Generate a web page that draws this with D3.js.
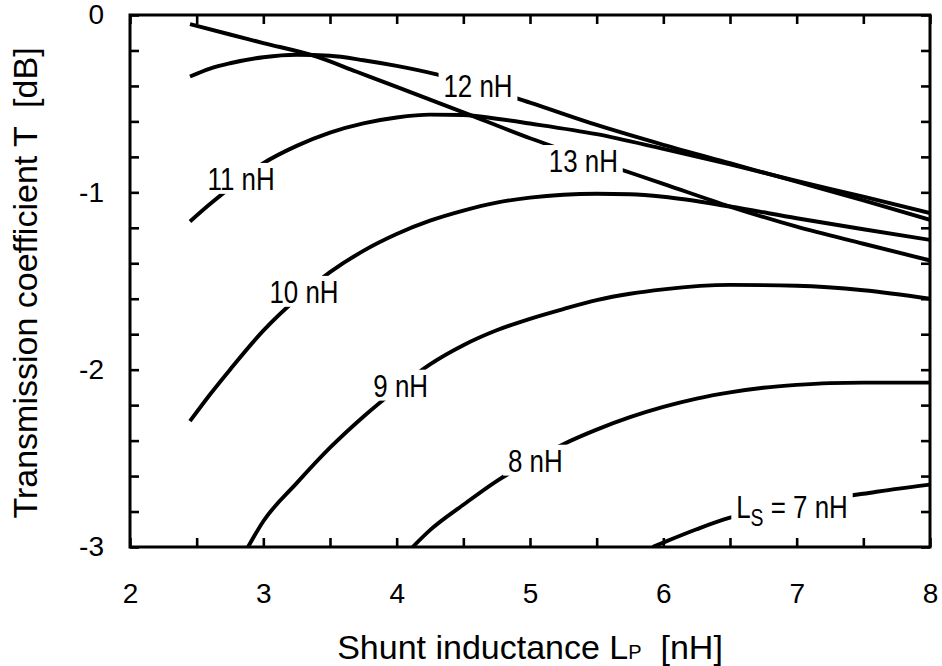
<!DOCTYPE html>
<html>
<head>
<meta charset="utf-8">
<style>
  body { margin: 0; background: #fff; }
  svg text { font-family: "Liberation Sans", Arial, sans-serif; fill: #000; }
</style>
</head>
<body>
<svg id="chart"></svg>
<script src="https://cdn.jsdelivr.net/npm/d3@7"></script>
<script>

/*========== Data ==========*/
// each point is [shunt inductance L_P (nH), transmission coefficient T (dB)]
const ls7 = [[5.92,-3.0],[6.0,-2.975],[6.25,-2.9],[6.5,-2.835],[6.75,-2.792],[7.0,-2.758],[7.25,-2.727],[7.5,-2.7],[7.75,-2.672],[8.0,-2.648]];
const ls8 = [[4.12,-3.0],[4.25,-2.905],[4.5,-2.762],[4.75,-2.628],[5.0,-2.518],[5.25,-2.42],[5.5,-2.338],[5.75,-2.268],[6.0,-2.21],[6.25,-2.163],[6.5,-2.128],[6.75,-2.102],[7.0,-2.086],[7.25,-2.076],[7.5,-2.073],[8.0,-2.073]];
const ls9 = [[2.885,-3.0],[3.0,-2.855],[3.25,-2.64],[3.5,-2.44],[3.75,-2.265],[4.0,-2.11],[4.25,-1.97],[4.5,-1.862],[4.75,-1.778],[5.0,-1.713],[5.25,-1.658],[5.5,-1.608],[5.75,-1.572],[6.0,-1.547],[6.5,-1.522],[7.0,-1.527],[7.5,-1.552],[8.0,-1.6]];
const ls10 = [[2.45,-2.29],[2.6,-2.14],[2.75,-2.0],[3.0,-1.78],[3.25,-1.6],[3.5,-1.45],[3.75,-1.33],[4.0,-1.235],[4.25,-1.16],[4.5,-1.103],[4.75,-1.058],[5.0,-1.03],[5.5,-1.008],[5.75,-1.011],[6.0,-1.025],[6.5,-1.08],[7.0,-1.146],[7.5,-1.208],[8.0,-1.268]];
const ls11 = [[2.45,-1.164],[2.6,-1.066],[2.8,-0.945],[3.0,-0.836],[3.25,-0.738],[3.5,-0.663],[3.75,-0.611],[4.0,-0.578],[4.25,-0.562],[4.5,-0.564],[4.75,-0.585],[5.0,-0.612],[5.5,-0.672],[6.0,-0.755],[6.5,-0.842],[7.0,-0.936],[7.5,-1.024],[8.0,-1.117]];
const ls12 = [[2.45,-0.347],[2.6,-0.302],[2.75,-0.272],[3.0,-0.238],[3.25,-0.224],[3.5,-0.23],[3.75,-0.255],[4.0,-0.287],[4.3,-0.335],[4.5,-0.375],[5.0,-0.494],[5.5,-0.62],[6.0,-0.732],[6.5,-0.836],[7.0,-0.94],[7.5,-1.045],[8.0,-1.155]];
const ls13 = [[2.45,-0.052],[2.75,-0.11],[3.0,-0.158],[3.4,-0.235],[3.7,-0.32],[4.0,-0.405],[4.5,-0.549],[5.0,-0.695],[5.5,-0.825],[6.0,-0.952],[6.5,-1.08],[7.0,-1.194],[7.5,-1.29],[8.0,-1.384]];

const series = [ls7, ls8, ls9, ls10, ls11, ls12, ls13];

// curve labels: main text, optional subscript, text after it, anchor [L_P, T] (centre, baseline)
const labelText = ["L", "8 nH", "9 nH", "10 nH", "11 nH", "12 nH", "13 nH"];
const labelSub  = ["S", "", "", "", "", "", ""];
const labelTail = [" = 7 nH", "", "", "", "", "", ""];
const labelAt   = [[6.965,-2.834],[5.04,-2.575],[4.03,-2.152],[3.305,-1.623],[2.833,-0.986],[4.61,-0.462],[5.40,-0.885]];

const xTicks = d3.range(2, 8.01, 0.5);
const yTicks = d3.range(0, 16).map(i => -3 + i / 5);

/*========== Zones ==========*/
const W = 942, H = 666;
const margin = {top: 15, right: 12, bottom: 119, left: 130};
const width = W - margin.left - margin.right;
const height = H - margin.top - margin.bottom;

const svg = d3.select("#chart").attr("width", W).attr("height", H);
const g = svg.append("g").attr("transform", `translate(${margin.left},${margin.top})`);

const x = d3.scaleLinear().domain([2, 8]).range([0, width]);
const y = d3.scaleLinear().domain([-3, 0]).range([height, 0]);

svg.append("defs").append("clipPath").attr("id", "plot")
  .append("rect").attr("width", width).attr("height", height);

/*========== Axes ==========*/
const isInt = d => Math.abs(d - Math.round(d)) < 1e-9;
const fmt = d => isInt(d) ? String(Math.round(d)) : "";

function styleAxis(sel) {
  sel.select(".domain").remove();
  sel.selectAll(".tick line").attr("stroke", "#000").attr("stroke-width", 2.6);
  sel.selectAll(".tick text").attr("font-size", 28).attr("font-family", null);
}

g.append("g").attr("transform", `translate(0,${height})`)
  .call(d3.axisBottom(x).tickValues(xTicks).tickSizeInner(-9).tickSizeOuter(0).tickPadding(36).tickFormat(fmt))
  .call(styleAxis);
g.append("g")
  .call(d3.axisTop(x).tickValues(xTicks).tickSizeInner(-9).tickSizeOuter(0).tickFormat(""))
  .call(styleAxis);
g.append("g")
  .call(d3.axisLeft(y).tickValues(yTicks).tickSizeInner(-9).tickSizeOuter(0).tickPadding(26).tickFormat(fmt))
  .call(styleAxis);
g.append("g").attr("transform", `translate(${width},0)`)
  .call(d3.axisRight(y).tickValues(yTicks).tickSizeInner(-9).tickSizeOuter(0).tickFormat(""))
  .call(styleAxis);

// frame
g.append("rect")
    .attr("width", width).attr("height", height)
    .attr("fill", "none").attr("stroke", "#000").attr("stroke-width", 3);

/*========== Curves ==========*/
const line = d3.line()
    .x(d => x(d[0]))
    .y(d => y(d[1]))
    .curve(d3.curveMonotoneX);

g.append("g").attr("clip-path", "url(#plot)")
  .selectAll("path")
  .data(series)
  .enter().append("path")
    .attr("d", line)
    .attr("fill", "none")
    .attr("stroke", "#000")
    .attr("stroke-width", 3.9)
    .attr("stroke-linejoin", "round");

/*========== Curve labels ==========*/
const fs = 32;
labelText.forEach((t, i) => {
  const lg = g.append("g")
      .attr("transform", `translate(${x(labelAt[i][0])},${y(labelAt[i][1])}) scale(0.81,1)`);
  const txt = lg.append("text")
      .attr("text-anchor", "middle")
      .attr("font-size", fs)
      .style("white-space", "pre");
  txt.append("tspan").text(t);
  if (labelSub[i]) {
    txt.append("tspan").attr("font-size", 24).attr("dy", 8).text(labelSub[i]);
    txt.append("tspan").attr("dy", -8).text(labelTail[i]);
  }
  const bb = txt.node().getBBox();
  lg.insert("rect", "text")
      .attr("x", bb.x - 6)
      .attr("y", -fs * 0.716 - 4)
      .attr("width", bb.width + 12)
      .attr("height", fs * 0.716 + 8 + (labelSub[i] ? 6 : 0))
      .attr("fill", "#fff");
});

/*========== Axis titles ==========*/
const xt = svg.append("text")
    .attr("x", margin.left + width / 2)
    .attr("y", 659)
    .attr("text-anchor", "middle")
    .attr("font-size", 34)
    .style("white-space", "pre");
xt.append("tspan").text("Shunt inductance L");
xt.append("tspan").attr("font-size", 20).text("P");
xt.append("tspan").text("  [nH]");

svg.append("text")
    .attr("transform", `translate(37,${margin.top + height / 2 + 2}) rotate(-90)`)
    .attr("text-anchor", "middle")
    .attr("font-size", 34)
    .style("white-space", "pre")
    .text("Transmission coefficient T  [dB]");

</script>
</body>
</html>
